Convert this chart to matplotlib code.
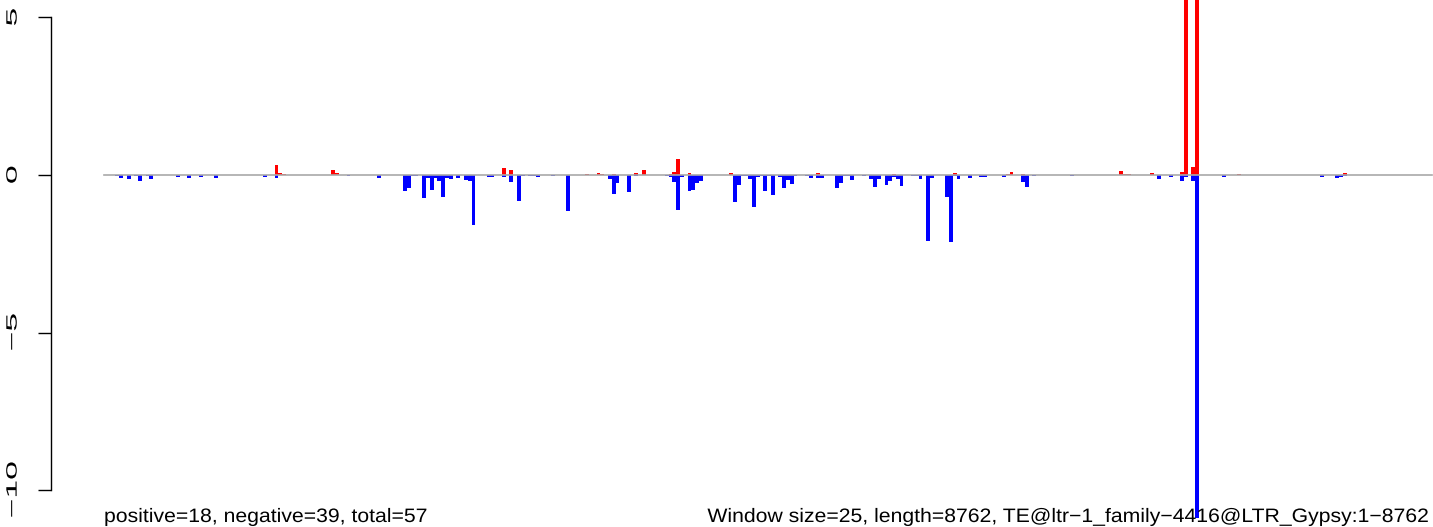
import numpy as np
import matplotlib
matplotlib.use("Agg")
import matplotlib.pyplot as plt
from matplotlib import patheffects
from matplotlib.transforms import Affine2D

plt.rcParams['font.family'] = ['Liberation Sans', 'DejaVu Sans']

win_size = 25
seq_len = 8762

# window index -> score above zero (red)
pos_win = [45, 46, 47, 60, 61, 105, 107, 127, 130, 131, 134, 140, 142, 149, 150,
           151, 154, 165, 188, 208, 224, 238, 239, 242, 268, 269, 270, 276, 284,
           285, 287, 288, 299, 327]
pos_val = [0.32, 0.06, 0.03, 0.16, 0.06, 0.22, 0.16, 0.03, 0.06, 0.03, 0.03, 0.06,
           0.16, 0.03, 0.10, 0.51, 0.06, 0.06, 0.06, 0.03, 0.06, 0.03, 0.10, 0.03,
           0.13, 0.03, 0.03, 0.06, 0.08, 8.0, 0.25, 8.0, 0.03, 0.06]

# window index -> score below zero (blue)
neg_win = [3, 4, 6, 8, 9, 11, 12, 19, 22, 25, 29, 42, 45, 64, 72, 79, 80, 81, 82,
           84, 85, 86, 87, 88, 89, 90, 91, 93, 95, 96, 97, 101, 102, 105, 107, 109,
           110, 112, 113, 114, 118, 122, 133, 134, 135, 138, 140, 148, 149, 150,
           151, 152, 154, 155, 156, 157, 166, 167, 168, 169, 170, 171, 172, 173,
           174, 175, 176, 178, 179, 180, 181, 182, 185, 186, 188, 189, 193, 194,
           195, 196, 197, 200, 202, 203, 204, 206, 207, 208, 209, 210, 213, 214,
           215, 217, 218, 222, 223, 224, 225, 228, 231, 232, 237, 242, 243, 245,
           255, 278, 281, 284, 285, 287, 288, 295, 321, 325, 326, 327]
neg_val = [-0.03, -0.085, -0.13, -0.04, -0.18, -0.04, -0.13, -0.05, -0.08, -0.05,
           -0.08, -0.05, -0.08, -0.02, -0.08, -0.50, -0.40, -0.02, -0.02, -0.72,
           -0.08, -0.47, -0.08, -0.18, -0.69, -0.08, -0.12, -0.08, -0.15, -0.18,
           -1.58, -0.05, -0.05, -0.05, -0.21, -0.81, -0.02, -0.02, -0.02, -0.05,
           -0.02, -1.13, -0.12, -0.59, -0.24, -0.53, -0.02, -0.02, -0.05, -0.21,
           -1.10, -0.05, -0.50, -0.47, -0.24, -0.18, -0.85, -0.31, -0.02, -0.02,
           -0.12, -1.00, -0.05, -0.02, -0.50, -0.02, -0.62, -0.07, -0.40, -0.15,
           -0.28, -0.02, -0.02, -0.08, -0.08, -0.08, -0.40, -0.24, -0.02, -0.02,
           -0.15, -0.02, -0.12, -0.37, -0.12, -0.31, -0.18, -0.05, -0.12, -0.34,
           -0.02, -0.02, -0.12, -2.08, -0.08, -0.69, -2.12, -0.02, -0.12, -0.08,
           -0.05, -0.05, -0.05, -0.21, -0.37, -0.02, -0.02, -0.12, -0.05, -0.19,
           -0.05, -0.19, -10.9, -0.05, -0.05, -0.08, -0.05, -0.02]

y_ticks = [-10, -5, 0, 5]
y_labels = ['\u221210', '\u22125', '0', '5']
left_note = "positive=18, negative=39, total=57"
right_note = "Window size=25, length=8762, TE@ltr\u22121_family\u22124416@LTR_Gypsy:1\u22128762"


class Stretch(patheffects.AbstractPathEffect):
    # widen glyphs along the baseline, about the left / centre / right of the string
    def __init__(self, sx, anchor='center'):
        super().__init__()
        self.sx = sx
        self.anchor = anchor

    def draw_path(self, renderer, gc, tpath, affine, rgbFace=None):
        v = tpath.vertices
        if len(v):
            x0, x1 = v[:, 0].min(), v[:, 0].max()
        else:
            x0 = x1 = 0
        cx = {'left': x0, 'center': (x0 + x1) / 2, 'right': x1}[self.anchor]
        t = Affine2D().translate(-cx, 0).scale(self.sx, 1).translate(cx, 0) + affine
        renderer.draw_path(gc, tpath, t, rgbFace)


W, H = 1433, 527
fig = plt.figure(figsize=(W / 100, H / 100), dpi=100)
ax = fig.add_axes([0, 0, 1, 1])

# pixel layout of the original: x=0 at 104px, x=len at 1432px, y=0 at 175px, 31.5 px per unit
xs = (1432 - 104) / seq_len
ax.set_xlim(-104 / xs, seq_len + (W - 1432) / xs)
ax.set_ylim(-(H - 175) / 31.5, 175 / 31.5)

ax.bar(np.array(pos_win) * win_size, pos_val, width=win_size, align='edge',
       color='red', linewidth=0)
ax.bar(np.array(neg_win) * win_size, neg_val, width=win_size, align='edge',
       color='blue', linewidth=0)
ax.plot([0, seq_len], [0, 0], color='#a9a9a9', lw=1.2, zorder=3)

for s in ['top', 'right', 'bottom']:
    ax.spines[s].set_visible(False)
ax.spines['left'].set_position(('data', -0.04 * seq_len))
ax.spines['left'].set_bounds(-10, 5)
ax.spines['left'].set_linewidth(1.0)
ax.set_xticks([])
ax.set_yticks(y_ticks)
ax.set_yticklabels(y_labels, rotation=90, va='center',
                   path_effects=[Stretch(2.25)])
ax.tick_params(axis='y', direction='out', length=9.5, width=1.0, pad=13,
               labelsize=10.8)

fig.text(104 / W, (H - 522) / H, left_note, fontsize=14, ha='left', va='baseline',
         path_effects=[Stretch(1.09, 'left')])
fig.text(1432 / W, (H - 522) / H, right_note, fontsize=14, ha='right', va='baseline',
         path_effects=[Stretch(1.09, 'right')])

fig.savefig('out.png', dpi=100)
